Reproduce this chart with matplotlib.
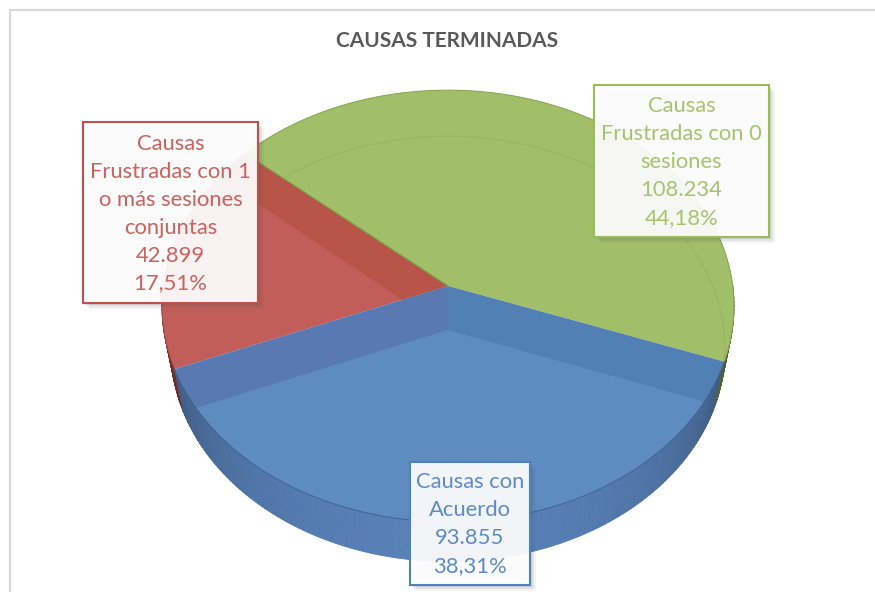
# Torta 3D de causas terminadas (proyeccion en perspectiva a mano)
import numpy as np
import matplotlib
matplotlib.use("Agg")
import matplotlib.pyplot as plt
from matplotlib.patches import Rectangle, Polygon

plt.rcParams["font.family"] = ["Lato", "DejaVu Sans"]

# 1. Datos
categorias = ["Causas\nFrustradas con 1\no más sesiones\nconjuntas", "Causas con\nAcuerdo", "Causas\nFrustradas con 0\nsesiones"]
valores = [42899, 93855, 108234]
textos_valor = ["42.899", "93.855", "108.234"]
textos_pct = ["17,51%", "38,31%", "44,18%"]

colores_top = ["#C25E59", "#5E8BC0", "#A1BF68"]
colores_banda = ["#B85548", "#5879B1", "#5280B4"]
colores_pared = ["#A8423E", "#5A84BC", "#7F9C4A"]
colores_borde = ["#C0504D", "#4F81BD", "#9BBB59"]
colores_texto = ["#CB625E", "#5C8BC6", "#A5C46E"]
cajas = [(83, 122, 175, 181), (410, 462, 120, 123), (594, 85, 175, 152)]

angulo_inicio = 139.0
cx = 448.0


def proy(ang, r=1.0, abajo=False):
    # circulo unitario -> pantalla, el centro queda corrido por la perspectiva
    t = np.radians(ang)
    u, v = r * np.cos(t), r * np.sin(t)
    if abajo:
        k, H, R, y0 = 0.089, 211.0, 276.0, 330.0
    else:
        k, H, R, y0 = 0.0926, 214.0, 284.8, 286.0
    w = 1 + k * v
    return cx + R * u / w, y0 - H * v / w


def tramo(a0, a1, abajo=False, n=160):
    a = np.linspace(a0, a1, n)
    x, y = proy(a, abajo=abajo)
    return np.column_stack([x, y])


fig = plt.figure(figsize=(8.75, 5.92), dpi=100)
ax = fig.add_axes([0, 0, 1, 1])
ax.set_xlim(0, 875)
ax.set_ylim(592, 0)
ax.axis("off")

# marco del grafico, se corta en el borde derecho e inferior
ax.add_patch(Rectangle((10, 10), 900, 620, fc="white", ec="#D9D9D9", lw=1.6, zorder=0))

# 2. Angulos de cada porcion
total = sum(valores)
barrido = [v / total * 360 for v in valores]
limites = angulo_inicio + np.concatenate([[0], np.cumsum(barrido)])

# 3. Pared lateral, del frente, con sombreado por angulo
for i in range(3):
    a0, a1 = limites[i], limites[i + 1]
    for a in np.arange(a0, a1, 1.0):
        fin = min(a + 1.0, a1)
        # solo la mitad de adelante se ve
        vis = [b % 360 for b in (a, fin)]
        if not (vis[0] >= 180 and vis[1] >= 180):
            continue
        s = abs(np.sin(np.radians((a + fin) / 2)))
        f = 0.42 + 0.56 * s ** 0.7
        rgb = np.array(matplotlib.colors.to_rgb(colores_pared[i])) * f
        top = tramo(a, fin, n=3)
        bot = tramo(a, fin, abajo=True, n=3)
        ax.fill(np.r_[top[:, 0], bot[::-1, 0]], np.r_[top[:, 1], bot[::-1, 1]],
                color=rgb, lw=0.6, zorder=2)

# 4. Cara superior y bandas interiores
apex_t = np.array(proy(0, 0.0))
apex_b = np.array(proy(0, 0.0, abajo=True))
caras = {}

for orden, i in enumerate([2, 0, 1]):
    a0, a1 = limites[i], limites[i + 1]
    pts = np.vstack([apex_t, tramo(a0, a1)])
    cara = Polygon(pts, closed=True, fc=colores_top[i], ec="none", zorder=3 + orden)
    ax.add_patch(cara)
    caras[i] = cara

    if i == 0:
        bordes = [a0]
        cols = [colores_banda[0]]
    elif i == 1:
        bordes = [a0, a1]
        cols = [colores_banda[1], colores_banda[2]]
    else:
        bordes, cols = [], []
    for b, c in zip(bordes, cols):
        ex_t = np.array(proy(b, 1.25))
        ex_b = apex_b + (np.array(proy(b, abajo=True)) - apex_b) * 1.25
        banda = Polygon([apex_t, ex_t, ex_b, apex_b], closed=True, fc=c, ec="none", zorder=3 + orden + 0.1)
        ax.add_patch(banda)
        banda.set_clip_path(cara)

    # contorno fino del arco
    arco = tramo(a0, a1)
    ax.plot(arco[:, 0], arco[:, 1], color=["#A8483F", "#3F6391", "#86A24E"][i], lw=0.7, zorder=6)

# linea entre verde y las otras porciones
for b in [limites[0], limites[3] % 360]:
    ex = proy(b)
    ax.plot([apex_t[0], ex[0]], [apex_t[1], ex[1]], color="#7D9A48", lw=0.7, zorder=6)

# arco de la base que se ve a traves del verde
arco = tramo(limites[2], limites[3] + 12, abajo=True)
linea_base, = ax.plot(arco[:, 0], arco[:, 1], color="#98B661", lw=0.8, zorder=3.5)
linea_base.set_clip_path(caras[2])

# 5. Titulo
ax.text(447, 41, "CAUSAS TERMINADAS", ha="center", va="center", fontsize=15,
        fontweight="bold", color="#595959", zorder=10)

# 6. Etiquetas con sombra
for i in range(3):
    x, y, w, h = cajas[i]
    for d, al in zip([7, 5, 3], [0.07, 0.10, 0.14]):
        ax.add_patch(Rectangle((x + d - 1, y + d - 1), w, h, fc="#555555", ec="none", alpha=al, zorder=7))
    ax.add_patch(Rectangle((x, y), w, h, fc="white", ec="none", alpha=0.93, zorder=8))
    ax.add_patch(Rectangle((x, y), w, h, fc="none", ec=colores_borde[i], lw=1.5, zorder=9))
    etiqueta = categorias[i] + "\n" + textos_valor[i] + "\n" + textos_pct[i]
    ax.text(x + w / 2, y + h / 2 + 1, etiqueta, ha="center", va="center", fontsize=15.8,
            color=colores_texto[i], linespacing=1.5, zorder=10)

fig.savefig("out.png", dpi=100)
